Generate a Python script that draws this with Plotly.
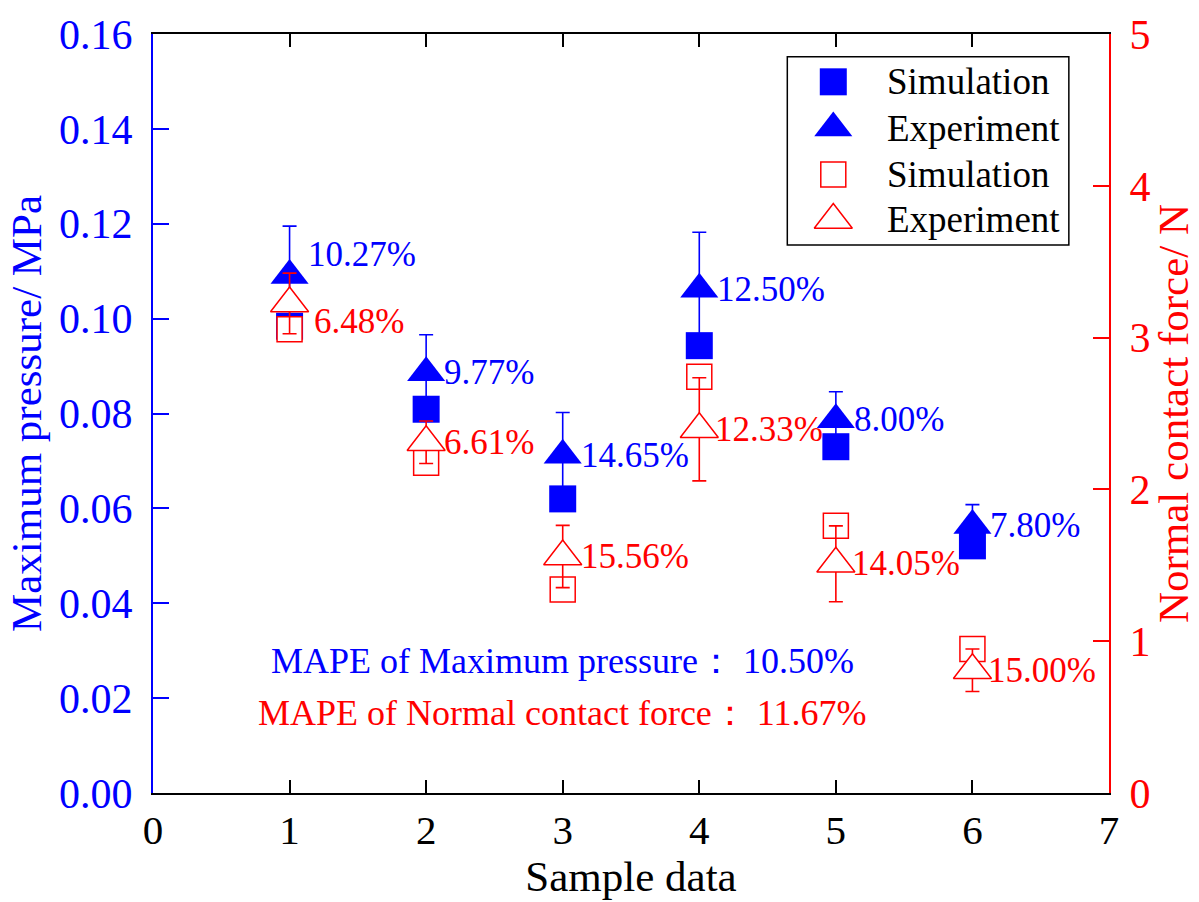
import plotly.graph_objects as go

# ---- data -------------------------------------------------------------
samples = [1, 2, 3, 4, 5, 6]

# Maximum pressure (MPa), left axis
pressure_sim = [0.0984, 0.0809, 0.0620, 0.0943, 0.0730, 0.0521]
pressure_exp = [0.1091, 0.0886, 0.0712, 0.1062, 0.0787, 0.0564]
pressure_err = [0.0104, 0.0080, 0.0090, 0.0120, 0.0059, 0.0044]
pressure_mape = ["10.27%", "9.77%", "14.65%", "12.50%", "8.00%", "7.80%"]

# Normal contact force (N), right axis
force_sim = [3.055, 2.176, 1.340, 2.742, 1.760, 0.948]
force_exp = [3.225, 2.311, 1.558, 2.396, 1.510, 0.809]
force_err = [0.20, 0.14, 0.205, 0.34, 0.25, 0.14]
force_mape = ["6.48%", "6.61%", "15.56%", "12.33%", "14.05%", "15.00%"]

mape_pressure_text = "MAPE of Maximum pressure\uff1a\u00a010.50%"
mape_force_text = "MAPE of Normal contact force\uff1a\u00a011.67%"

legend_labels = ["Simulation", "Experiment", "Simulation", "Experiment"]

# ---- styling ----------------------------------------------------------
FONT = "Liberation Serif"
BLUE = "#0000ff"
RED = "#ff0000"

fig = go.Figure()

fig.add_trace(go.Scatter(
    x=samples, y=pressure_sim, mode="markers", showlegend=False,
    marker=dict(symbol="square", size=27, color=BLUE, line=dict(width=0)),
))
fig.add_trace(go.Scatter(
    x=samples, y=pressure_exp, mode="markers", showlegend=False,
    marker=dict(symbol="triangle-up", size=33, color=BLUE, line=dict(width=0)),
    error_y=dict(type="data", array=pressure_err, symmetric=True,
                 color=BLUE, thickness=1.6, width=7),
))
fig.add_trace(go.Scatter(
    x=samples, y=force_sim, mode="markers", showlegend=False, yaxis="y2",
    marker=dict(symbol="square", size=25, color="white",
                line=dict(width=1.5, color=RED)),
))
fig.add_trace(go.Scatter(
    x=samples, y=force_exp, mode="markers", showlegend=False, yaxis="y2",
    marker=dict(symbol="triangle-up", size=33, color="white",
                line=dict(width=1.5, color=RED)),
    error_y=dict(type="data", array=force_err, symmetric=True,
                 color=RED, thickness=1.6, width=7),
))

# ---- legend drawn on a hidden unit-square overlay ---------------------
leg_x = 0.7116
leg_rows = [0.937, 0.876, 0.815, 0.755]
leg_styles = [
    dict(symbol="square", size=27, color=BLUE, line=dict(width=0)),
    dict(symbol="triangle-up", size=33, color=BLUE, line=dict(width=0)),
    dict(symbol="square", size=25, color="white", line=dict(width=1.5, color=RED)),
    dict(symbol="triangle-up", size=33, color="white", line=dict(width=1.5, color=RED)),
]
for row, style in zip(leg_rows, leg_styles):
    fig.add_trace(go.Scatter(
        x=[leg_x], y=[row], mode="markers", showlegend=False,
        xaxis="x3", yaxis="y3", marker=style, hoverinfo="skip",
    ))

annotations = []
for row, label in zip(leg_rows, legend_labels):
    annotations.append(dict(
        x=0.766, y=row, xref="paper", yref="paper", text=label,
        showarrow=False, xanchor="left", yanchor="middle",
        font=dict(family=FONT, size=37, color="black"),
    ))

# percentage labels beside the experiment markers
p_shift = [21, 0, 0, 0, 0, 0]
f_shift = [-18, 0, 0, 0, 0, 0]
f_xshift = [22, 16, 16, 14, 14, 14]
for i, s in enumerate(samples):
    annotations.append(dict(
        x=s, y=pressure_exp[i], xref="x", yref="y", text=pressure_mape[i],
        showarrow=False, xanchor="left", yanchor="middle",
        xshift=16, yshift=p_shift[i],
        font=dict(family=FONT, size=35, color=BLUE),
    ))
    annotations.append(dict(
        x=s, y=force_exp[i], xref="x", yref="y2", text=force_mape[i],
        showarrow=False, xanchor="left", yanchor="middle",
        xshift=f_xshift[i], yshift=f_shift[i],
        font=dict(family=FONT, size=35, color=RED),
    ))

annotations.append(dict(
    x=3.0, y=0.1736, xref="x", yref="paper", text=mape_pressure_text,
    showarrow=False, xanchor="center", yanchor="middle",
    font=dict(family=FONT, size=36, color=BLUE),
))
annotations.append(dict(
    x=3.0, y=0.1057, xref="x", yref="paper", text=mape_force_text,
    showarrow=False, xanchor="center", yanchor="middle",
    font=dict(family=FONT, size=36, color=RED),
))

fig.update_layout(
    width=1199, height=902,
    margin=dict(l=153, r=89, t=27, b=109),
    paper_bgcolor="white", plot_bgcolor="white",
    font=dict(family=FONT),
    annotations=annotations,
    shapes=[dict(type="rect", xref="paper", yref="paper",
                 x0=0.6635, x1=0.958, y0=0.722, y1=0.970,
                 line=dict(color="black", width=1.5), fillcolor="rgba(0,0,0,0)")],
    xaxis=dict(
        range=[0, 7], tick0=0, dtick=1, showgrid=False, zeroline=False,
        showline=True, linecolor="black", linewidth=2, mirror="ticks",
        ticks="inside", ticklen=13, tickwidth=2, tickcolor="black",
        tickfont=dict(family=FONT, size=41, color="black"),
        title=dict(text="Sample data", font=dict(family=FONT, size=43, color="black"),
                   standoff=6),
    ),
    yaxis=dict(
        range=[0, 0.16], tick0=0, dtick=0.02, tickformat=".2f",
        showgrid=False, zeroline=False,
        showline=True, linecolor=BLUE, linewidth=2,
        ticks="inside", ticklen=16, tickwidth=2, tickcolor=BLUE,
        ticklabelstandoff=10,
        tickfont=dict(family=FONT, size=42, color=BLUE),
        title=dict(text="Maximum pressure/ MPa",
                   font=dict(family=FONT, size=43, color=BLUE), standoff=4),
    ),
    yaxis2=dict(
        range=[0, 5], tick0=0, dtick=1, overlaying="y", side="right",
        showgrid=False, zeroline=False,
        showline=True, linecolor=RED, linewidth=2,
        ticks="inside", ticklen=16, tickwidth=2, tickcolor=RED,
        ticklabelstandoff=10,
        tickfont=dict(family=FONT, size=42, color=RED),
        title=dict(text="Normal contact force/ N",
                   font=dict(family=FONT, size=43, color=RED), standoff=6),
    ),
    xaxis3=dict(range=[0, 1], overlaying="x", visible=False, fixedrange=True),
    yaxis3=dict(range=[0, 1], overlaying="y", visible=False, fixedrange=True),
)

fig.write_html("out.html")
